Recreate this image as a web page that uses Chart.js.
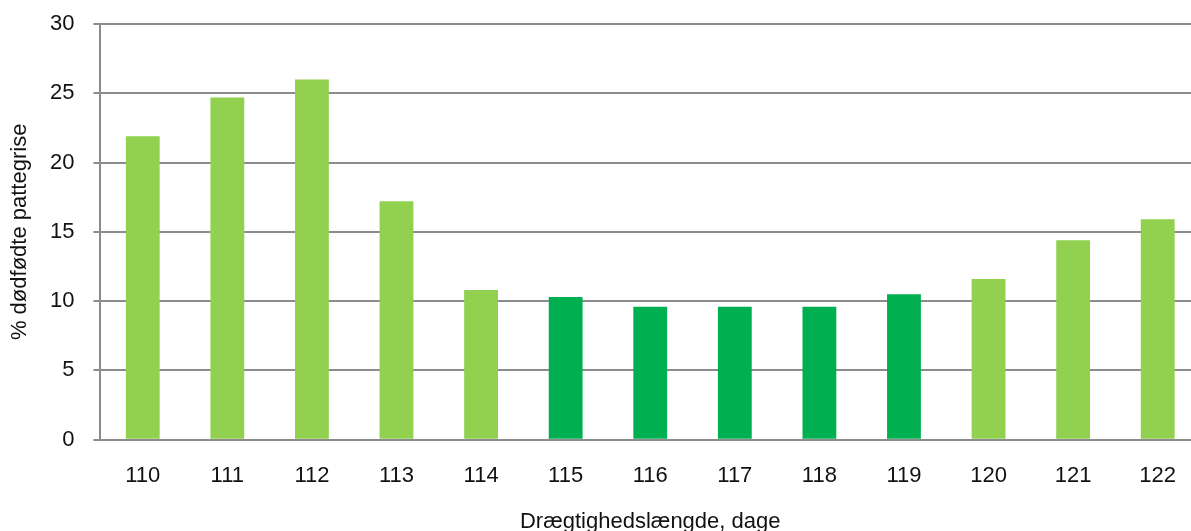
<!DOCTYPE html>
<html lang="da">
<head>
    <meta charset="UTF-8">
    <title>Dødfødte pattegrise efter drægtighedslængde</title>
    <script src="https://cdn.jsdelivr.net/npm/chart.js"></script>
    <style>
        html, body { margin: 0; padding: 0; background: #ffffff; overflow: hidden; }
        /* the original picture is cut off a little on the right, so the chart is a bit wider than the window */
        #wrap { width: 1200px; height: 531px; position: relative; }
    </style>
</head>
<body>
    <div id="wrap"><canvas id="chart"></canvas></div>

    <script>
        // days of gestation and % stillborn piglets
        const days = ['110', '111', '112', '113', '114', '115', '116', '117', '118', '119', '120', '121', '122'];
        const stillborn = [21.9, 24.7, 26.0, 17.2, 10.8, 10.3, 9.6, 9.6, 9.6, 10.5, 11.6, 14.4, 15.9];
        const normalRange = [false, false, false, false, false, true, true, true, true, true, false, false, false];
        const yTicks = [0, 5, 10, 15, 20, 25, 30];

        const lightGreen = '#92d050';
        const darkGreen = '#00b050';
        const gridColor = '#8c8c8c';

        Chart.defaults.font.family = "'Liberation Sans', Arial, sans-serif";
        Chart.defaults.color = '#111111';

        const ctx = document.getElementById('chart').getContext('2d');
        const chart = new Chart(ctx, {
            type: 'bar',
            data: {
                labels: days,
                datasets: [{
                    data: stillborn,
                    backgroundColor: normalRange.map(n => n ? darkGreen : lightGreen),
                    borderWidth: 0,
                    categoryPercentage: 1,
                    barPercentage: 0.4
                }]
            },
            options: {
                responsive: true,
                maintainAspectRatio: false,
                animation: false,
                layout: { padding: { top: 24, right: 0, bottom: 0, left: 9 } },
                plugins: { legend: { display: false }, tooltip: { enabled: false } },
                scales: {
                    x: {
                        afterFit: axis => { axis.paddingLeft = 0; axis.paddingRight = 0; },
                        grid: { display: false, drawTicks: false },
                        border: { display: true, color: gridColor, width: 2 },
                        ticks: { font: { size: 22 }, padding: 23 },
                        title: { display: true, text: 'Drægtighedslængde, dage', font: { size: 22, lineHeight: 0.86 }, padding: { top: 0, bottom: 0 } }
                    },
                    y: {
                        min: 0,
                        max: 30,
                        afterBuildTicks: axis => { axis.ticks = yTicks.map(v => ({ value: v })); },
                        // keep the label overflow from pushing the plot area in
                        afterFit: axis => { axis.paddingTop = 0; axis.paddingBottom = 0; },
                        grid: { color: gridColor, lineWidth: 2, tickLength: 7 },
                        border: { display: true, color: gridColor, width: 2 },
                        ticks: { font: { size: 22 }, padding: 19 },
                        title: { display: true, text: '% dødfødte pattegrise', font: { size: 22, lineHeight: 1 }, padding: { top: 0, bottom: 0 } }
                    }
                }
            }
        });
    </script>
</body>
</html>
